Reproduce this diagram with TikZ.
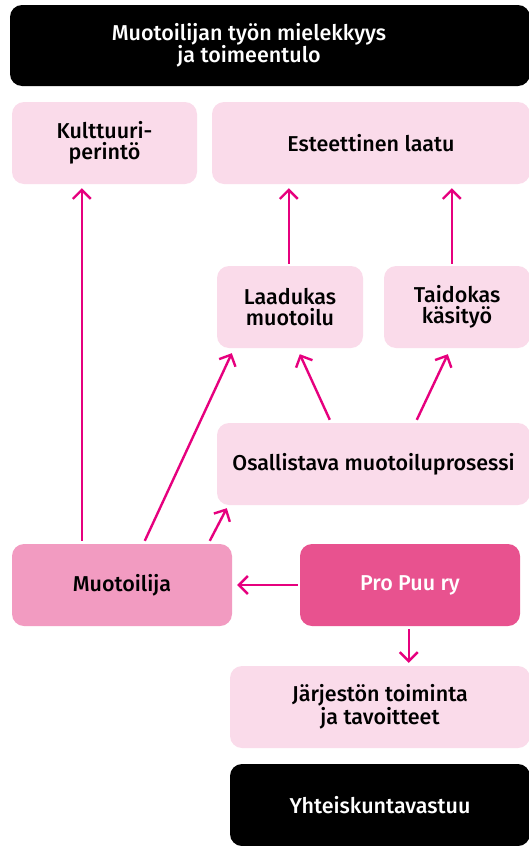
\documentclass[tikz,border=0pt]{standalone}
\usepackage{fontspec}
\setmainfont{Fira Sans Medium}
\usetikzlibrary{arrows.meta}
\definecolor{lightpk}{HTML}{FADBEA}
\definecolor{midpk}{HTML}{F29BC1}
\definecolor{propk}{HTML}{E8528F}
\definecolor{arrpk}{HTML}{E6007E}
\tikzset{
  boxbase/.style={rectangle, rounded corners=12pt, inner sep=0pt, align=center,
    font=\fontsize{21.5}{20.5}\selectfont},
  lbox/.style={boxbase, fill=lightpk, text=black},
  mbox/.style={boxbase, fill=midpk, text=black},
  pbox/.style={boxbase, fill=propk, text=white},
  bbox/.style={boxbase, fill=black, text=white},
  arr/.style={draw=arrpk, line width=2.4pt, -{Straight Barb[length=9pt,width=18pt,line width=2.4pt]}},
}
\begin{document}
\begin{tikzpicture}[x=1pt,y=-1pt]
\useasboundingbox (0,0) rectangle (528,846);
% top
\node[bbox, minimum width=520pt, minimum height=81pt] (top) at (270,45.5) {};
\node[text=white, align=center, font=\fontsize{21.5}{22}\selectfont] (toptxt) at (249,45.5) {Muotoilijan työn mielekkyys\\ja toimeentulo};
% row 2
\node[lbox, minimum width=185pt, minimum height=82pt] (kult) at (104.5,143) {Kulttuuri-\\perintö};
\node[lbox, minimum width=318pt, minimum height=82pt] (este) at (371,143) {Esteettinen laatu};
% row 3
\node[lbox, minimum width=146pt, minimum height=82pt] (laad) at (290,307) {Laadukas\\muotoilu};
\node[lbox, minimum width=146pt, minimum height=82pt] (taid) at (457,307) {Taidokas\\käsityö};
% row 4
\node[lbox, minimum width=313pt, minimum height=82pt] (osal) at (373.5,464) {Osallistava muotoiluprosessi};
% row 5
\node[mbox, minimum width=220pt, minimum height=82pt] (muo) at (122,585) {Muotoilija};
\node[pbox, minimum width=220pt, minimum height=82pt] (pro) at (410,585) {Pro Puu ry};
% row 6
\node[lbox, minimum width=300pt, minimum height=82pt] (jarj) at (380,707) {Järjestön toiminta\\ja tavoitteet};
\node[bbox, minimum width=300pt, minimum height=82pt] (yht) at (380,805) {Yhteiskuntavastuu};
% arrows
\draw[arr] ([xshift=70pt,yshift=3pt]muo.north west) -- ([xshift=70pt,yshift=-4pt]kult.south west);
\draw[arr] ([xshift=133pt,yshift=3pt]muo.north west) -- ([xshift=15pt,yshift=-5pt]laad.south west);
\draw[arr] ([xshift=198pt,yshift=3pt]muo.north west) -- ([xshift=10pt,yshift=-3pt]osal.south west);
\draw[arr] ([xshift=113pt,yshift=3pt]osal.north west) -- ([xshift=83pt,yshift=-6pt]laad.south west);
\draw[arr] ([xshift=200pt,yshift=3pt]osal.north west) -- ([xshift=64pt,yshift=-6pt]taid.south west);
\draw[arr] ([xshift=72pt,yshift=2pt]laad.north west) -- ([xshift=77pt,yshift=-4pt]este.south west);
\draw[arr] ([xshift=68pt,yshift=2pt]taid.north west) -- ([xshift=240pt,yshift=-4pt]este.south west);
\draw[arr] ([xshift=-2pt]pro.west) -- ([xshift=5pt]muo.east);
\draw[arr] ([xshift=109pt,yshift=-3pt]pro.south west) -- ([xshift=179pt,yshift=3pt]jarj.north west);
\end{tikzpicture}
\end{document}
